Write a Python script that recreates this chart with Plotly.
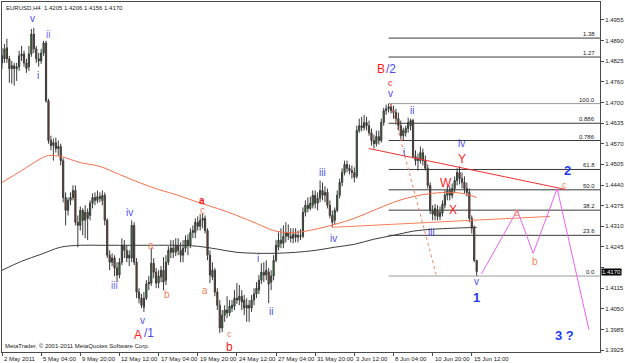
import plotly.graph_objects as go

# ---------------- data ----------------
open_ = [1.4843,1.4834,1.4868,1.4834,1.4803,1.4812,1.4803,1.4809,1.4843,1.4849,
1.4821,1.4809,1.4849,1.4911,1.4865,1.4834,1.4827,1.4852,1.4883,1.4703,
1.4579,1.4563,1.4572,1.4554,1.4560,1.4516,1.4401,1.4361,1.4392,1.4401,
1.4423,1.4324,1.4314,1.4361,1.4330,1.4355,1.4345,1.4383,1.4401,1.4392,
1.4404,1.4392,1.4408,1.4330,1.4221,1.4199,1.4212,1.4181,1.4159,1.4199,
1.4252,1.4236,1.4212,1.4212,1.4314,1.4199,1.4106,1.4087,1.4059,1.4087,
1.4131,1.4134,1.4196,1.4168,1.4134,1.4153,1.4174,1.4143,1.4199,1.4230,
1.4243,1.4230,1.4252,1.4236,1.4221,1.4243,1.4268,1.4252,1.4292,1.4292,
1.4324,1.4311,1.4330,1.4336,1.4298,1.4221,1.4153,1.4174,1.4106,1.4065,
1.3994,1.4034,1.4050,1.4041,1.4056,1.4062,1.4087,1.4081,1.4093,1.4081,
1.4056,1.4065,1.4056,1.4081,1.4100,1.4112,1.4143,1.4168,1.4159,1.4168,
1.4137,1.4156,1.4205,1.4246,1.4268,1.4258,1.4280,1.4292,1.4280,1.4274,
1.4286,1.4277,1.4283,1.4280,1.4355,1.4377,1.4367,1.4377,1.4408,1.4383,
1.4398,1.4423,1.4408,1.4417,1.4377,1.4345,1.4330,1.4361,1.4408,1.4448,
1.4479,1.4504,1.4492,1.4485,1.4479,1.4467,1.4610,1.4625,1.4619,1.4635,
1.4625,1.4603,1.4579,1.4569,1.4591,1.4579,1.4635,1.4672,1.4678,1.4684,
1.4672,1.4666,1.4647,1.4625,1.4594,1.4603,1.4616,1.4625,1.4641,1.4529,
1.4516,1.4516,1.4541,1.4516,1.4492,1.4439,1.4361,1.4345,1.4361,1.4342,
1.4352,1.4377,1.4408,1.4423,1.4408,1.4429,1.4454,1.4479,1.4460,1.4448,
1.4429,1.4417,1.4336,1.4305,1.4205]

high = [1.4868,1.4880,1.4896,1.4843,1.4827,1.4821,1.4821,1.4859,1.4874,1.4859,
1.4834,1.4874,1.4927,1.4930,1.4874,1.4852,1.4865,1.4890,1.4890,1.4709,
1.4594,1.4585,1.4588,1.4579,1.4569,1.4523,1.4417,1.4401,1.4417,1.4439,
1.4439,1.4345,1.4373,1.4367,1.4377,1.4367,1.4392,1.4414,1.4417,1.4423,
1.4417,1.4423,1.4417,1.4336,1.4236,1.4227,1.4221,1.4199,1.4212,1.4274,
1.4268,1.4252,1.4236,1.4330,1.4324,1.4212,1.4118,1.4100,1.4106,1.4143,
1.4156,1.4243,1.4212,1.4181,1.4174,1.4187,1.4215,1.4221,1.4249,1.4268,
1.4268,1.4274,1.4274,1.4261,1.4268,1.4283,1.4286,1.4305,1.4314,1.4336,
1.4342,1.4349,1.4352,1.4345,1.4305,1.4236,1.4199,1.4181,1.4118,1.4081,
1.4050,1.4065,1.4093,1.4081,1.4081,1.4112,1.4134,1.4128,1.4112,1.4097,
1.4087,1.4081,1.4097,1.4118,1.4137,1.4159,1.4196,1.4199,1.4205,1.4181,
1.4174,1.4221,1.4268,1.4292,1.4305,1.4314,1.4324,1.4317,1.4305,1.4305,
1.4305,1.4298,1.4302,1.4370,1.4392,1.4401,1.4404,1.4423,1.4423,1.4417,
1.4454,1.4448,1.4436,1.4429,1.4392,1.4361,1.4370,1.4423,1.4460,1.4492,
1.4516,1.4516,1.4504,1.4501,1.4495,1.4625,1.4647,1.4653,1.4659,1.4653,
1.4641,1.4616,1.4597,1.4610,1.4610,1.4647,1.4681,1.4691,1.4694,1.4694,
1.4687,1.4678,1.4666,1.4641,1.4619,1.4625,1.4650,1.4647,1.4647,1.4548,
1.4538,1.4560,1.4554,1.4532,1.4504,1.4448,1.4377,1.4380,1.4377,1.4373,
1.4392,1.4423,1.4436,1.4436,1.4445,1.4467,1.4492,1.4498,1.4479,1.4467,
1.4448,1.4429,1.4345,1.4314,1.4206]

low = [1.4803,1.4821,1.4821,1.4759,1.4756,1.4750,1.4765,1.4796,1.4827,1.4809,
1.4790,1.4796,1.4840,1.4852,1.4821,1.4809,1.4818,1.4843,1.4697,1.4569,
1.4548,1.4516,1.4541,1.4532,1.4501,1.4386,1.4314,1.4345,1.4377,1.4392,
1.4314,1.4246,1.4298,1.4283,1.4274,1.4268,1.4330,1.4367,1.4377,1.4383,
1.4386,1.4377,1.4314,1.4212,1.4174,1.4187,1.4156,1.4137,1.4149,1.4190,
1.4212,1.4199,1.4187,1.4199,1.4190,1.4087,1.4071,1.4056,1.4044,1.4081,
1.4112,1.4125,1.4149,1.4118,1.4118,1.4137,1.4112,1.4128,1.4190,1.4212,
1.4212,1.4218,1.4221,1.4199,1.4199,1.4230,1.4221,1.4243,1.4274,1.4274,
1.4298,1.4298,1.4305,1.4289,1.4205,1.4134,1.4143,1.4093,1.4050,1.3978,
1.3981,1.4013,1.4025,1.4031,1.4044,1.4050,1.4069,1.4065,1.4050,1.4034,
1.4013,1.4013,1.4044,1.4065,1.4087,1.4100,1.4131,1.4137,1.4143,1.4071,
1.4112,1.4143,1.4199,1.4236,1.4243,1.4243,1.4261,1.4268,1.4261,1.4258,
1.4261,1.4261,1.4268,1.4274,1.4342,1.4355,1.4361,1.4367,1.4367,1.4361,
1.4386,1.4392,1.4386,1.4367,1.4336,1.4308,1.4317,1.4355,1.4398,1.4436,
1.4470,1.4479,1.4473,1.4460,1.4448,1.4460,1.4603,1.4607,1.4610,1.4610,
1.4594,1.4563,1.4554,1.4560,1.4566,1.4572,1.4625,1.4659,1.4666,1.4663,
1.4647,1.4628,1.4610,1.4579,1.4579,1.4591,1.4603,1.4610,1.4523,1.4501,
1.4485,1.4507,1.4501,1.4485,1.4429,1.4349,1.4330,1.4330,1.4330,1.4330,
1.4342,1.4367,1.4392,1.4392,1.4398,1.4417,1.4439,1.4442,1.4429,1.4414,
1.4404,1.4324,1.4289,1.4199,1.4156]

close = [1.4821,1.4865,1.4834,1.4803,1.4812,1.4803,1.4809,1.4843,1.4849,1.4821,
1.4803,1.4849,1.4911,1.4865,1.4834,1.4827,1.4852,1.4883,1.4703,1.4579,
1.4563,1.4572,1.4554,1.4560,1.4516,1.4401,1.4361,1.4392,1.4401,1.4423,
1.4324,1.4314,1.4361,1.4330,1.4355,1.4336,1.4383,1.4401,1.4392,1.4404,
1.4398,1.4408,1.4330,1.4221,1.4199,1.4212,1.4181,1.4159,1.4199,1.4252,
1.4236,1.4212,1.4221,1.4314,1.4199,1.4106,1.4087,1.4065,1.4087,1.4131,
1.4137,1.4196,1.4168,1.4134,1.4156,1.4174,1.4137,1.4199,1.4236,1.4243,
1.4230,1.4252,1.4236,1.4221,1.4243,1.4268,1.4252,1.4292,1.4298,1.4324,
1.4311,1.4330,1.4336,1.4298,1.4221,1.4159,1.4174,1.4106,1.4065,1.3994,
1.4034,1.4050,1.4041,1.4062,1.4065,1.4087,1.4081,1.4093,1.4075,1.4056,
1.4065,1.4056,1.4081,1.4100,1.4118,1.4143,1.4168,1.4159,1.4174,1.4131,
1.4156,1.4205,1.4252,1.4268,1.4258,1.4280,1.4292,1.4280,1.4274,1.4286,
1.4277,1.4283,1.4280,1.4355,1.4377,1.4367,1.4383,1.4408,1.4383,1.4398,
1.4423,1.4408,1.4417,1.4377,1.4345,1.4324,1.4361,1.4408,1.4448,1.4479,
1.4504,1.4492,1.4485,1.4479,1.4464,1.4610,1.4625,1.4619,1.4635,1.4625,
1.4603,1.4579,1.4569,1.4591,1.4579,1.4635,1.4672,1.4678,1.4684,1.4672,
1.4666,1.4647,1.4625,1.4594,1.4610,1.4616,1.4635,1.4641,1.4529,1.4516,
1.4523,1.4541,1.4516,1.4492,1.4439,1.4361,1.4349,1.4367,1.4342,1.4355,
1.4380,1.4408,1.4423,1.4408,1.4429,1.4454,1.4479,1.4460,1.4448,1.4429,
1.4417,1.4336,1.4305,1.4205,1.4170]

n_bars = len(close)
for name, arr in (("open", open_), ("high", high), ("low", low)):
    if len(arr) != n_bars:
        raise SystemExit(f"{name} has {len(arr)} values, close has {n_bars}")
bar_index = list(range(n_bars))

# moving averages (read at sampled bars)
ma_red_bars = [0, 8, 16, 19, 24, 32, 40, 48, 56, 64, 72, 80, 88, 96, 104, 112, 120, 128, 136, 144, 152, 160, 168, 176, 184, 190, 194]
ma_red = [1.4448, 1.4485, 1.4523, 1.4532, 1.4529, 1.4510, 1.4498, 1.4473, 1.4448, 1.4426, 1.4408, 1.4386, 1.4367, 1.4345,
          1.4320, 1.4296, 1.4292, 1.4302, 1.4317, 1.4336, 1.4361, 1.4386, 1.4404, 1.4414, 1.4417, 1.4411, 1.4401]
ma_black_bars = [0, 8, 16, 24, 32, 40, 48, 56, 64, 72, 80, 88, 96, 104, 112, 120, 128, 136, 144, 152, 160, 168, 176, 184, 194]
ma_black = [1.4174, 1.4202, 1.4224, 1.4246, 1.4252, 1.4252, 1.4252, 1.4252, 1.4252, 1.4252, 1.4249, 1.4240, 1.4230,
            1.4227, 1.4227, 1.4230, 1.4236, 1.4246, 1.4255, 1.4271, 1.4283, 1.4296, 1.4302, 1.4305, 1.4308]

# Fibonacci retracement
fib_high = 1.4694
fib_low = 1.4156
fib_start_bar = 158
fib_ratios = [1.38, 1.27, 1.0, 0.886, 0.786, 0.618, 0.5, 0.382, 0.236, 0.0]
fib_labels = ["1.38", "1.27", "100.0", "0.886", "0.786", "61.8", "50.0", "38.2", "23.6", "0.0"]
fib_diag_bars = [159, 177.6]
fib_diag_prices = [1.4694, 1.4156]

# trend lines
red_tl_bars = [149.9, 230.5]
red_tl_prices = [1.4554, 1.4426]
orange_tl_bars = [134.8, 224.0]
orange_tl_prices = [1.4308, 1.4342]

# projected path
proj_bars = [195.9, 210.6, 217.1, 226.9, 239.9]
proj_prices = [1.4162, 1.4361, 1.4227, 1.4429, 1.3988]

# axes
x_tick_bars = [0, 16, 32, 48, 64, 80, 96, 112, 128, 144, 160, 176, 192]
x_tick_labels = ["2 May 2011", "5 May 04:00", "9 May 20:00", "12 May 12:00", "17 May 04:00", "19 May 20:00",
                 "24 May 12:00", "27 May 04:00", "31 May 20:00", "3 Jun 12:00", "8 Jun 04:00", "10 Jun 20:00", "15 Jun 12:00"]
# the 1.4180 label sits under the current-price box, so it is left blank
y_tick_labels = ["1.4955", "1.4890", "1.4825", "1.4760", "1.4700", "1.4635", "1.4570", "1.4505", "1.4440",
                 "1.4375", "1.4310", "1.4245", "", "1.4115", "1.4050", "1.3985", "1.3925"]
y_tick_top = 1.4955
y_tick_bottom = 1.3925
last_price = 1.4170

# wave labels: (bar, price, text, kind)
wave_labels = [
    (12.6, 1.4961, "v", "blue"), (18.7, 1.4911, "ii", "lblue"), (14.7, 1.4781, "i", "blue"),
    (52.1, 1.4355, "iv", "blue"), (46.0, 1.4128, "iii", "lblue"), (60.7, 1.4252, "a", "orange"),
    (67.6, 1.4097, "b", "orange"), (57.4, 1.4018, "v", "blue"), (55.4, 1.3972, "A", "redcap"),
    (59.9, 1.3978, "/1", "bluecap"), (81.9, 1.4392, "a", "redbold"), (81.9, 1.4361, "c", "orange"),
    (83.1, 1.4112, "a", "orange"), (92.9, 1.3976, "c", "orangesm"), (92.9, 1.3934, "b", "redcap"),
    (104.7, 1.4212, "i", "blue"), (110.0, 1.4044, "ii", "blue"), (130.8, 1.4479, "iii", "blue"),
    (135.6, 1.4274, "iv", "blue"), (154.8, 1.4803, "B", "redcap"), (158.9, 1.4803, "/2", "bluecap"),
    (158.9, 1.4759, "c", "redsm"), (158.9, 1.4724, "v", "blue"), (167.4, 1.4672, "ii", "blue"),
    (164.2, 1.4541, "i", "blue"), (187.8, 1.4568, "iv", "blue"), (187.8, 1.4520, "Y", "redcap"),
    (181.3, 1.4445, "W", "redcap"), (184.5, 1.4361, "X", "redcap"), (175.6, 1.4292, "iii", "blue"),
    (193.9, 1.4140, "v", "blue"), (193.9, 1.4090, "1", "bigblue"), (231.0, 1.4485, "2", "bigblue"),
    (229.8, 1.4439, "c", "orangesm"), (210.6, 1.4355, "a", "orange"), (217.9, 1.4202, "b", "orange"),
    (229.7, 1.3972, "3 ?", "bigblue"),
]
label_styles = {
    "blue": ("#4b4bf0", 10, False), "lblue": ("#7070f0", 10, False), "orange": ("#f5805a", 10, False),
    "orangesm": ("#f5805a", 9, False), "redsm": ("#ff1a1a", 9, False),
    "red": ("#ff1a1a", 10, False), "redbold": ("#ff1a1a", 10, True), "redcap": ("#ff1a1a", 12, False),
    "bluecap": ("#4b4bf0", 12, False), "bigblue": ("#1f3cf5", 13, True),
}

# ---------------- figure ----------------
X_MIN, X_MAX = 0.0, 244.4
Y_MIN, Y_MAX = 1.3919, 1.5011
AX = "#4a4a4a"
SMALL = dict(family="Liberation Sans, Arial, sans-serif", size=6, color="#1a1a1a")

fig = go.Figure()
fig.add_trace(go.Scatter(x=ma_black_bars, y=ma_black, mode="lines", line=dict(color="#3c3c3c", width=1, shape="spline"), hoverinfo="skip"))
fig.add_trace(go.Scatter(x=ma_red_bars, y=ma_red, mode="lines", line=dict(color="#f5704a", width=1, shape="spline"), hoverinfo="skip"))

for r in fib_ratios:
    lvl = fib_low + r * (fib_high - fib_low)
    col = "#9a9a9a" if r in (0.0, 1.0) else "#3a3a3a"
    fig.add_trace(go.Scatter(x=[fib_start_bar, X_MAX + 1], y=[lvl, lvl], mode="lines", line=dict(color=col, width=1), hoverinfo="skip"))

fig.add_trace(go.Scatter(x=fib_diag_bars, y=fib_diag_prices, mode="lines", line=dict(color="#f08060", width=1, dash="dot"), hoverinfo="skip"))
fig.add_trace(go.Scatter(x=orange_tl_bars, y=orange_tl_prices, mode="lines", line=dict(color="#f5805a", width=1), hoverinfo="skip"))

fig.add_trace(go.Candlestick(
    x=bar_index, open=open_, high=high, low=low, close=close,
    increasing=dict(fillcolor="#1f9a1f", line=dict(color="#3a3a3a", width=1)),
    decreasing=dict(fillcolor="#9a3a1a", line=dict(color="#3a3a3a", width=1)),
    whiskerwidth=0, hoverinfo="skip"))

fig.add_trace(go.Scatter(x=red_tl_bars, y=red_tl_prices, mode="lines", line=dict(color="#f03030", width=1), hoverinfo="skip"))
fig.add_trace(go.Scatter(x=proj_bars, y=proj_prices, mode="lines", line=dict(color="#f060f0", width=1), hoverinfo="skip"))

n_ticks = len(y_tick_labels)
step = (y_tick_top - y_tick_bottom) / (n_ticks - 1)
y_tick_vals = [y_tick_top - k * step for k in range(n_ticks)]

annotations = []
for r, lab in zip(fib_ratios, fib_labels):
    lvl = fib_low + r * (fib_high - fib_low)
    annotations.append(dict(x=1, xref="paper", y=lvl, yref="y", text=lab, showarrow=False,
                            xanchor="right", yanchor="bottom", xshift=-3, yshift=-1, font=SMALL))
for b, lab in zip(x_tick_bars, x_tick_labels):
    annotations.append(dict(x=b, xref="x", y=0, yref="paper", text=lab, showarrow=False,
                            xanchor="left", yanchor="top", xshift=0, yshift=-2, font=SMALL))
for b, p, t, kind in wave_labels:
    col, sz, bold = label_styles[kind]
    annotations.append(dict(x=b, y=p, xref="x", yref="y", text=(f"<b>{t}</b>" if bold else t), showarrow=False,
                            xanchor="center", yanchor="middle",
                            font=dict(family="Liberation Sans, Arial, sans-serif", size=sz, color=col)))
annotations.append(dict(x=0, xref="paper", y=1, yref="paper", text="EURUSD,H4  1.4205 1.4206 1.4156 1.4170",
                        showarrow=False, xanchor="left", yanchor="top", xshift=2, yshift=-1, font=SMALL))
annotations.append(dict(x=0, xref="paper", y=0, yref="paper", text="MetaTrader, © 2001-2011 MetaQuotes Software Corp.",
                        showarrow=False, xanchor="left", yanchor="bottom", xshift=1, yshift=1, font=SMALL))
annotations.append(dict(x=1, xref="paper", y=last_price, yref="y", text="1.4170", showarrow=False,
                        xanchor="left", yanchor="middle", xshift=1, bgcolor="#000000", borderpad=0,
                        font=dict(family="Liberation Sans, Arial, sans-serif", size=6, color="#ffffff")))

fig.update_layout(
    width=625, height=363, margin=dict(l=2, r=23, t=1, b=11, pad=0),
    paper_bgcolor="white", plot_bgcolor="white", showlegend=False,
    annotations=annotations,
    xaxis=dict(range=[X_MIN, X_MAX], showgrid=False, zeroline=False, showline=True, linecolor=AX, linewidth=1,
               mirror=True, ticks="outside", ticklen=3, tickcolor=AX, tickvals=x_tick_bars,
               ticktext=[""] * len(x_tick_bars), rangeslider=dict(visible=False), fixedrange=True),
    yaxis=dict(side="right", range=[Y_MIN, Y_MAX], showgrid=False, zeroline=False, showline=True, linecolor=AX,
               linewidth=1, mirror=True, ticks="outside", ticklen=3, tickcolor=AX, tickvals=y_tick_vals,
               ticktext=y_tick_labels, tickfont=SMALL, fixedrange=True),
)

fig.write_html("out.html")
